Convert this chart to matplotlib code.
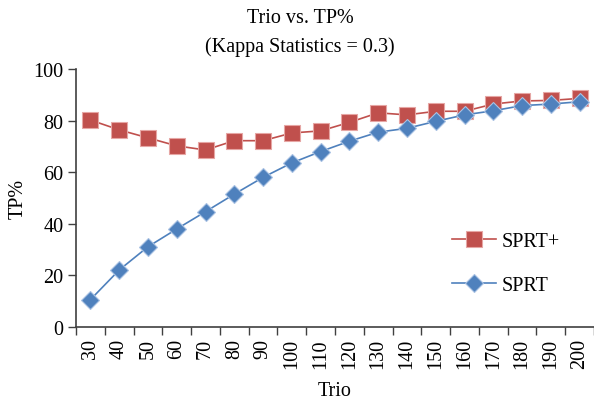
import numpy as np
import matplotlib.pyplot as plt

plt.rcParams['font.family'] = ['Liberation Serif', 'DejaVu Serif']

# Data
trio = [30, 40, 50, 60, 70, 80, 90, 100, 110, 120, 130, 140, 150, 160, 170, 180, 190, 200]
sprt_plus = [80.2, 76.4, 73.3, 70.2, 68.6, 72.2, 72.2, 75.2, 76.0, 79.3, 83.0, 82.2, 83.6, 83.6, 86.4, 87.6, 87.8, 88.6]
sprt = [10.6, 22.1, 31.1, 38.0, 44.7, 51.5, 58.0, 63.6, 68.0, 72.0, 75.5, 77.0, 79.7, 82.2, 83.8, 85.8, 86.4, 87.3]

red = '#C0504D'
blue = '#4F81BD'
fs = 14.5

fig = plt.figure(figsize=(5.94, 4.02), dpi=100)
ax = fig.add_axes([0.128, 0.184, 0.872, 0.642])

x = np.arange(len(trio))
ax.plot(x, sprt_plus, color=red, marker='s', markersize=11.5, markeredgecolor='#E6A6A4',
        markeredgewidth=0.8, linewidth=1.2, label='SPRT+', zorder=3)
ax.plot(x, sprt, color=blue, marker='D', markersize=9.5, markeredgecolor='#A9C2E3',
        markeredgewidth=0.8, linewidth=1.2, label='SPRT', zorder=3)

ax.set_xlim(-0.5, len(trio) - 0.5)
ax.set_ylim(0, 100)
ax.set_yticks([0, 20, 40, 60, 80, 100])
ax.set_xticks(x)
ax.set_xticklabels([str(t) for t in trio], rotation=90, fontsize=fs)
ax.set_xticks(np.arange(len(trio) + 1) - 0.5, minor=True)
ax.tick_params(axis='x', which='major', length=0, pad=8)
ax.tick_params(axis='x', which='minor', length=6, width=1, color='#404040', direction='out')
ax.tick_params(axis='y', length=6, width=1, color='#404040', labelsize=fs, pad=3)

ax.spines[['top', 'right']].set_visible(False)
for s in ['left', 'bottom']:
    ax.spines[s].set_color('#404040')
    ax.spines[s].set_linewidth(1.2)

ax.set_xlabel('Trio', fontsize=fs, labelpad=9)
ax.set_ylabel('TP%', fontsize=fs, labelpad=4)

fig.text(0.505, 0.955, 'Trio vs. TP%', ha='center', va='center', fontsize=fs)
fig.text(0.505, 0.883, '(Kappa Statistics = 0.3)', ha='center', va='center', fontsize=fs)

ax.legend(frameon=False, fontsize=fs, loc='center left', bbox_to_anchor=(0.69, 0.245),
          handlelength=2.2, labelspacing=1.25, handletextpad=0.3)

fig.savefig('out.png', dpi=100)
